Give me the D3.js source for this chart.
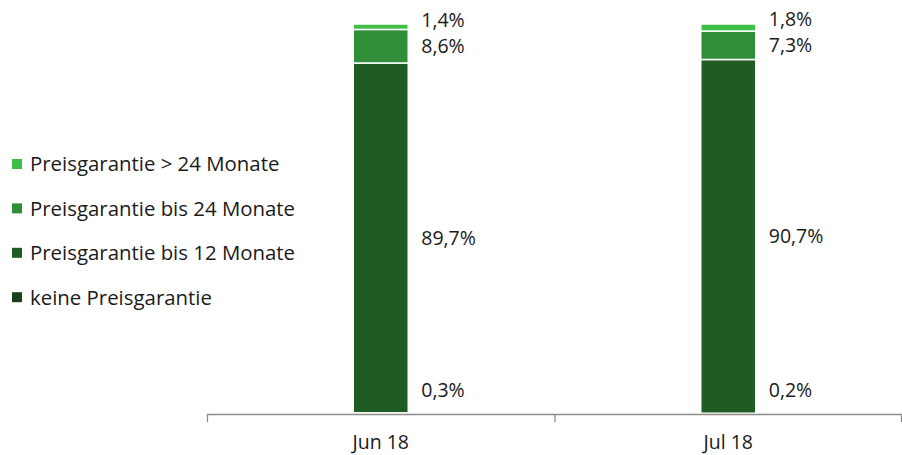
<!DOCTYPE html>
<html><head><meta charset="utf-8">
<script src="https://cdn.jsdelivr.net/npm/d3@7"></script>
<style>body{margin:0;background:#fff}svg{display:block;font-family:"Open Sans","Noto Sans",sans-serif}</style>
</head><body><svg id="c" width="902" height="455"></svg>
<script>
const categories = ["Jun 18", "Jul 18"];
const seriesNames = ["keine Preisgarantie", "Preisgarantie bis 12 Monate", "Preisgarantie bis 24 Monate", "Preisgarantie > 24 Monate"];
const keine = [0.3, 0.2];
const bis12 = [89.7, 90.7];
const bis24 = [8.6, 7.3];
const ueber24 = [1.4, 1.8];
const colors = ["#17401b", "#1f5b23", "#2f8e37", "#40bf48"];

const svg = d3.select("#c");
const x = d3.scaleBand().domain(categories).range([207, 902]).paddingInner(0).paddingOuter(0);
const y = d3.scaleLinear().domain([0, 100]).range([414, 24]);
const barW = 55;

const seriesVals = [keine, bis12, bis24, ueber24];
const rows = categories.map((c, i) => {
  const r = {cat: c};
  seriesNames.forEach((s, j) => r[s] = seriesVals[j][i]);
  return r;
});
const stack = d3.stack().keys(seriesNames)(rows);

stack.forEach((layer, j) => {
  svg.append("g").selectAll("rect").data(layer).join("rect")
    .attr("x", d => x(d.data.cat) + x.bandwidth()/2 - barW/2)
    .attr("width", barW)
    .attr("y", d => y(d[1]))
    .attr("height", d => Math.max(0, y(d[0]) - y(d[1])))
    .attr("fill", colors[j])
    .attr("stroke", "#fff").attr("stroke-width", 1.5);
});

// labels: centred on segment, bottom clamped, upper labels pushed up on overlap
categories.forEach((c, i) => {
  const labs = stack.map((layer, j) => ({v: seriesVals[j][i], y: (y(layer[i][0]) + y(layer[i][1]))/2}));
  labs[0].y = Math.min(labs[0].y, 390);
  const gap = 26;
  for (let m = 1; m < labs.length; m++) {
    if (labs[m-1].y - labs[m].y < gap) labs[m].y = labs[m-1].y - gap;
  }
  const cx = x(c) + x.bandwidth()/2 + barW/2 + 13;
  svg.append("g").selectAll("text").data(labs).join("text")
    .attr("x", cx).attr("y", d => d.y).attr("dy", "0.36em")
    .attr("font-size", 19.5).attr("fill", "#1a1a1a")
    .text(d => d.v.toFixed(1).replace(".", ",") + "%");
});

// axis
const ax = svg.append("g");
ax.append("line").attr("x1", 207).attr("x2", 902).attr("y1", 414.5).attr("y2", 414.5).attr("stroke", "#8c8c8c").attr("stroke-width", 1.3);
const tickXs = categories.map(c => x(c)).concat([x.range()[1] - 1]);
ax.selectAll("line.t").data(tickXs).join("line").attr("class","t")
  .attr("x1", d => d + 0.5).attr("x2", d => d + 0.5).attr("y1", 414).attr("y2", 422)
  .attr("stroke", "#8c8c8c").attr("stroke-width", 1.3);
ax.selectAll("text").data(categories).join("text")
  .attr("x", d => x(d) + x.bandwidth()/2).attr("y", 449)
  .attr("text-anchor", "middle").attr("font-size", 19.5).attr("fill", "#1a1a1a").text(d => d);

// legend (top: >24)
const legOrder = seriesNames.map((s, j) => ({s, c: colors[j]})).reverse();
const lg = svg.append("g").selectAll("g").data(legOrder).join("g")
  .attr("transform", (d, k) => `translate(12, ${164 + k*44.4})`);
lg.append("rect").attr("x", 0).attr("y", -5).attr("width", 10).attr("height", 10).attr("fill", d => d.c);
lg.append("text").attr("x", 18).attr("y", 0).attr("dy", "0.36em").attr("font-size", 20.4).attr("fill", "#1a1a1a").text(d => d.s);
</script>
</body></html>
